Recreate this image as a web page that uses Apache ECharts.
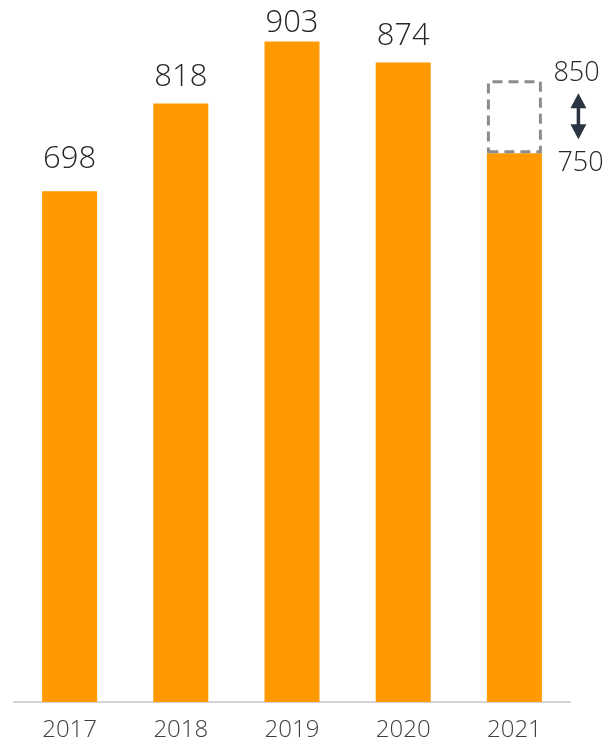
<!DOCTYPE html>
<html>
<head>
<meta charset="utf-8">
<script src="https://cdn.jsdelivr.net/npm/echarts@6/dist/echarts.min.js"></script>
<style>html,body{margin:0;padding:0;background:#fff;}#c{width:606px;height:745px;}</style>
</head>
<body>
<div id="c"></div>
<script>
const categories = ['2017', '2018', '2019', '2020', '2021'];
const values = [698, 818, 903, 874, 750];
const rangeLow = 750;
const rangeHigh = 850;
const rangeIndex = 4;

const chart = echarts.init(document.getElementById('c'));
const FONT = "'Open Sans', sans-serif";
const labelGap = [17, 11, 3, 11, 0];

const barData = values.map((v, i) => i === rangeIndex
  ? { value: v, label: { show: false } }
  : { value: v, label: { distance: labelGap[i] } });
const rangeData = categories.map((c, i) => i === rangeIndex ? rangeHigh - rangeLow : null);

chart.setOption({
  animation: false,
  grid: { left: 14, right: 36, top: 7, bottom: 43 },
  xAxis: {
    type: 'category',
    data: categories,
    axisLine: { show: true, lineStyle: { color: '#d4d4d4', width: 2 } },
    axisTick: { show: false },
    axisLabel: { color: '#404040', fontSize: 24, fontFamily: FONT, fontWeight: 300, margin: 16 }
  },
  yAxis: {
    type: 'value', min: 0, max: 950,
    show: false, splitLine: { show: false }
  },
  series: [
    {
      type: 'bar',
      stack: 'a',
      data: barData,
      barWidth: 55,
      itemStyle: { color: '#ff9900' },
      label: {
        show: true, position: 'top',
        color: '#262626', fontSize: 31, fontFamily: FONT, fontWeight: 300
      }
    },
    {
      type: 'bar',
      stack: 'a',
      data: rangeData,
      barWidth: 55,
      itemStyle: {
        color: 'rgba(0,0,0,0)',
        borderColor: '#8c8c8c', borderWidth: 3, borderType: [10, 6]
      },
      z: 3
    },
    {
      type: 'custom',
      data: [[rangeIndex, rangeLow, rangeHigh]],
      z: 5,
      renderItem: function (params, api) {
        const top = api.coord([api.value(0), api.value(2)]);
        const bot = api.coord([api.value(0), api.value(1)]);
        const ax = top[0] + 64;
        const y1 = top[1] + 13;
        const y2 = bot[1] - 14;
        const hw = 8, hh = 15;
        const col = '#2a3340';
        return {
          type: 'group',
          children: [
            { type: 'line', shape: { x1: ax, y1: y1 + hh - 2, x2: ax, y2: y2 - hh + 2 }, style: { stroke: col, lineWidth: 3.5 } },
            { type: 'polygon', shape: { points: [[ax, y1], [ax - hw, y1 + hh], [ax + hw, y1 + hh]] }, style: { fill: col } },
            { type: 'polygon', shape: { points: [[ax, y2], [ax - hw, y2 - hh], [ax + hw, y2 - hh]] }, style: { fill: col } },
            { type: 'text', style: { text: String(api.value(2)), x: top[0] + 39, y: top[1] - 7, verticalAlign: 'middle', align: 'left', fill: '#262626', font: '300 27px ' + FONT } },
            { type: 'text', style: { text: String(api.value(1)), x: top[0] + 43, y: bot[1] + 10, verticalAlign: 'middle', align: 'left', fill: '#262626', font: '300 27px ' + FONT } }
          ]
        };
      }
    }
  ]
});
</script>
</body>
</html>
